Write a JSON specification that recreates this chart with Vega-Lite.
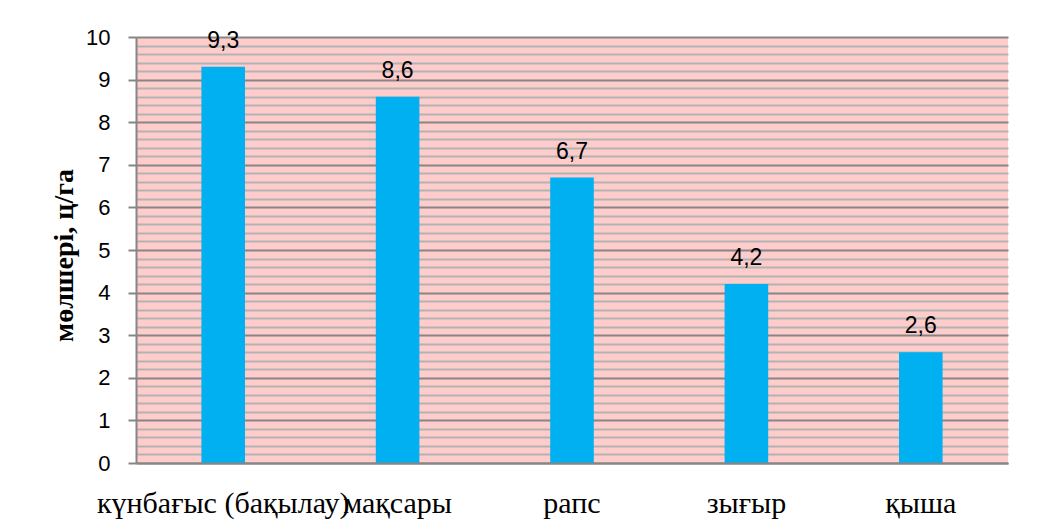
{
  "$schema": "https://vega.github.io/schema/vega-lite/v6.json",
  "width": 872,
  "height": 426,
  "autosize": {"type": "none"},
  "padding": {"left": 136, "top": 37, "right": 49, "bottom": 60},
  "background": "white",
  "config": {"view": {"fill": "#FFCCCC", "stroke": null}},
  "data": {
    "values": [
      {"crop": "күнбағыс (бақылау)", "value": 9.3},
      {"crop": "мақсары", "value": 8.6},
      {"crop": "рапс", "value": 6.7},
      {"crop": "зығыр", "value": 4.2},
      {"crop": "қыша", "value": 2.6}
    ]
  },
  "transform": [
    {"calculate": "replace(format(datum.value, '.1f'), '.', ',')", "as": "label"}
  ],
  "encoding": {
    "x": {
      "field": "crop",
      "type": "nominal",
      "sort": null,
      "scale": {"paddingInner": 0.75, "paddingOuter": 0.375},
      "axis": {
        "title": null,
        "labelAngle": 0,
        "labelFont": "Liberation Serif",
        "labelFontSize": 30,
        "labelColor": "#000000",
        "labelBaseline": "alphabetic",
        "labelPadding": 49,
        "labelLimit": 400,
        "labelOverlap": false,
        "ticks": false,
        "domainColor": "#868686",
        "domainWidth": 2,
        "zindex": 1
      }
    },
    "y": {
      "field": "value",
      "type": "quantitative",
      "scale": {"domain": [0, 10], "nice": false},
      "axis": {
        "values": [0, 0.2, 0.4, 0.6, 0.8, 1, 1.2, 1.4, 1.6, 1.8, 2, 2.2, 2.4, 2.6, 2.8, 3, 3.2, 3.4, 3.6, 3.8, 4, 4.2, 4.4, 4.6, 4.8, 5, 5.2, 5.4, 5.6, 5.8, 6, 6.2, 6.4, 6.6, 6.8, 7, 7.2, 7.4, 7.6, 7.8, 8, 8.2, 8.4, 8.6, 8.8, 9, 9.2, 9.4, 9.6, 9.8, 10],
        "labelExpr": "datum.value % 1 === 0 ? format(datum.value, 'd') : ''",
        "labelFont": "Liberation Sans",
        "labelFontSize": 22,
        "labelColor": "#000000",
        "labelPadding": 18,
        "labelOverlap": false,
        "tickSize": 8,
        "tickWidth": 2,
        "tickColor": "#868686",
        "tickOpacity": {"condition": {"test": "datum.value % 1 === 0", "value": 1}, "value": 0},
        "grid": true,
        "gridColor": {"condition": {"test": "datum.value % 1 === 0", "value": "#868686"}, "value": "#B3B3B3"},
        "gridWidth": 2,
        "gridOpacity": 1,
        "domainColor": "#868686",
        "domainWidth": 2,
        "title": "мөлшері, ц/га",
        "titleFont": "Liberation Serif",
        "titleFontSize": 28,
        "titleFontWeight": "bold",
        "titleColor": "#000000",
        "titleAngle": -90,
        "titleAlign": "center",
        "titleBaseline": "alphabetic",
        "titleX": -64,
        "titleY": 218
      }
    }
  },
  "layer": [
    {"mark": {"type": "bar", "color": "#00B0F0"}},
    {
      "mark": {"type": "text", "baseline": "alphabetic", "dy": -19, "font": "Liberation Sans", "fontSize": 23, "color": "#000000"},
      "encoding": {"text": {"field": "label"}}
    }
  ]
}
